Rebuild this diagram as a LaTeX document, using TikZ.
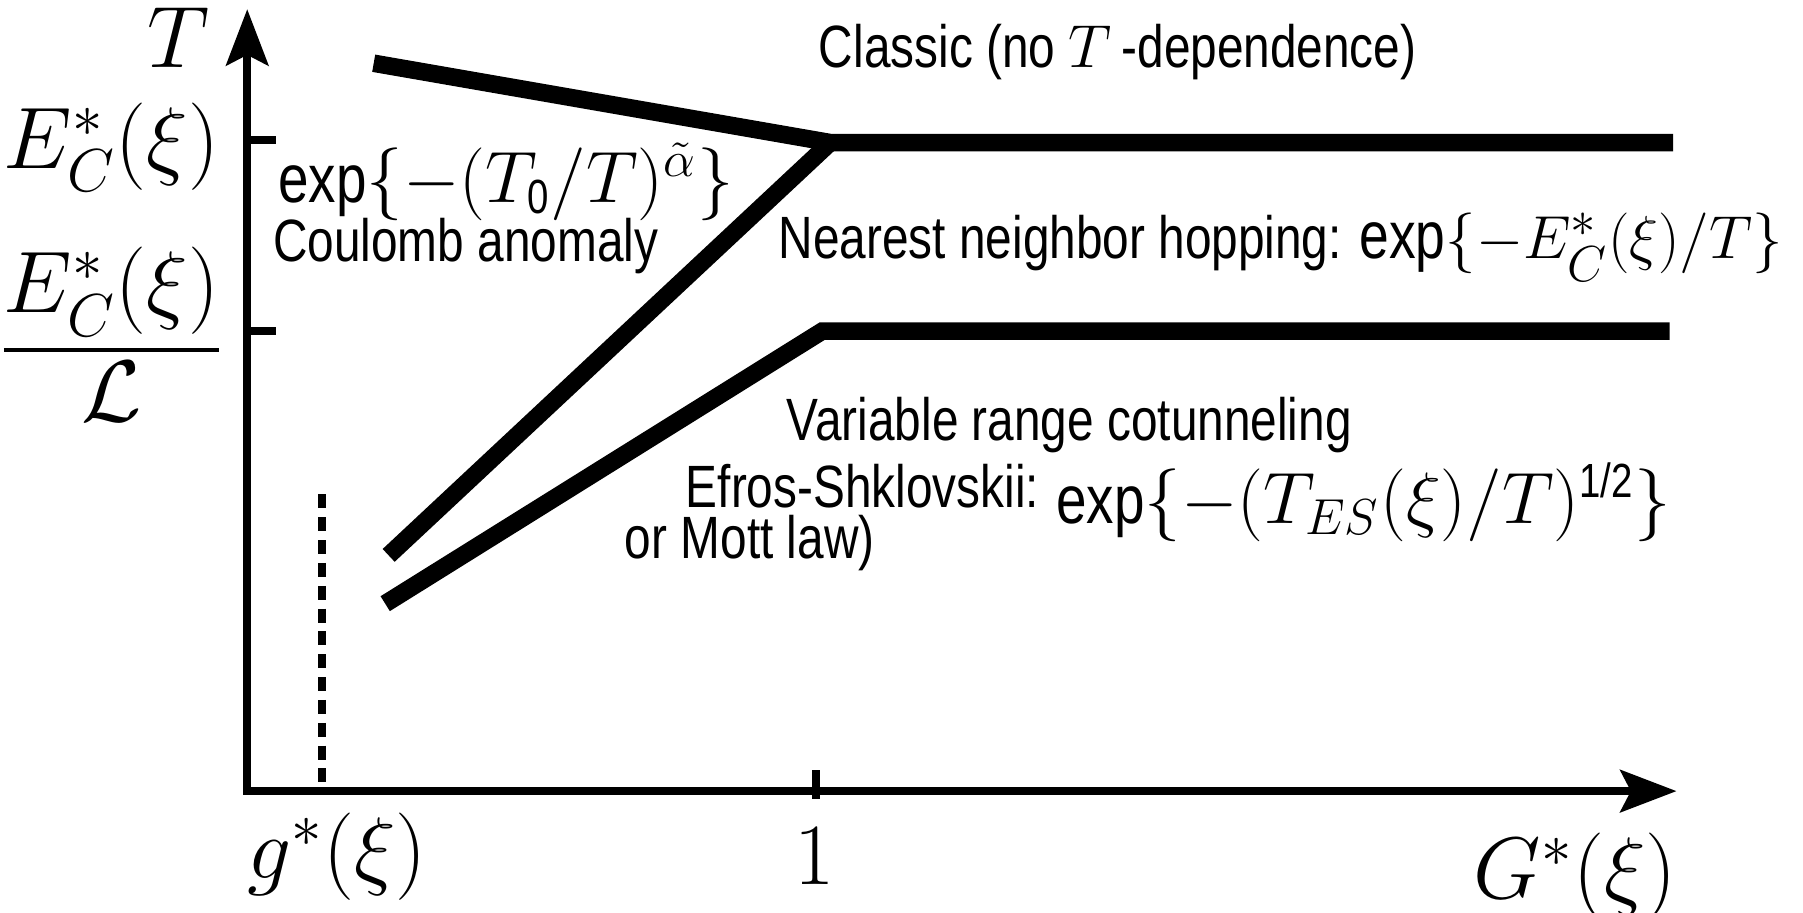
\documentclass[tikz,border=0pt]{standalone}
\usepackage{amsmath}
\usepackage[no-math]{fontspec}
\setmainfont{Liberation Sans}[FakeStretch=0.8]
\usetikzlibrary{arrows.meta,positioning}
\tikzset{
    axes/.style={line width=2.3pt, {Stealth[length=16pt,width=12pt,inset=3pt]}-{Stealth[length=16pt,width=12pt,inset=3pt]}},
    tick/.style={line width=2.3pt},
    regime/.style={line width=5pt},
    lbl/.style={inner sep=0pt, font=\fontsize{17}{20}\selectfont},
    explbl/.style={inner sep=0pt, font=\fontsize{19.5}{24}\selectfont},
    axlbl/.style={inner sep=0pt, font=\fontsize{23}{28}\selectfont}
}
\begin{document}
\begin{tikzpicture}[x=0.0115cm, y=-0.0115cm]
    \useasboundingbox (0,0) rectangle (1568,794);

    % axes and ticks
    \coordinate (O) at (215,688);
    \coordinate (ytip) at (215,8);
    \coordinate (xtip) at (1458,688);
    \draw[axes] (ytip) -- (O) -- (xtip);
    \draw[tick] (215,122) -- (240,122);
    \draw[tick] (215,288) -- (240,288);
    \draw[tick] (710,670) -- (710,695);
    \draw[line width=2.3pt, dash pattern=on 4pt off 2.5pt] (280,430) -- (280,688);

    % regime boundaries
    \coordinate (kink) at (722,124);
    \coordinate (knee) at (715,288);
    \draw[regime] (325,55) -- (kink) -- (1455,124);
    \draw[regime] (338,483) -- (kink);
    \draw[regime] (335,525) -- (knee) -- (1452,288);

    % axis labels
    \node[axlbl] (Tlbl) at (155,33) {$T$};
    \node[axlbl] (Ec) at (97,128) {$E_C^*(\xi)$};
    \node[axlbl] (EcL) at (97,300) {$\dfrac{E_C^*(\xi)}{\raisebox{6pt}[0pt][0pt]{$\mathcal{L}$}}$};
    \node[axlbl] (glbl) at (293,745) {$g^*(\xi)$};
    \node[axlbl] (one) at (708,745) {$1$};
    \node[axlbl] (Glbl) at (1370,762) {$G^*(\xi)$};

    % regimes
    \node[lbl] (classic) at (972,45) {Classic (no $T$\,-dependence)};
    \node[explbl] (coulexp) at (440,158) {exp$\{-(T_{\text{0}}/T)^{\tilde\alpha}\}$};
    \node[lbl] (coul) at (405,214) {Coulomb anomaly};
    \node[lbl] (nn) at (1114,215) {Nearest neighbor hopping: \fontsize{19}{24}\selectfont exp$\{-E_C^*(\xi)/T\}$};
    \node[lbl] (vrc) at (930,370) {Variable range cotunneling};
    \node[lbl] (es) at (750,423) {Efros-Shklovskii:};
    \node[explbl] (esexp) at (1186,437) {exp$\{-(T_{ES}(\xi)/T)^{\text{1/2}}\}$};
    \node[lbl] (mott) at (652,472) {or Mott law)};
\end{tikzpicture}
\end{document}
